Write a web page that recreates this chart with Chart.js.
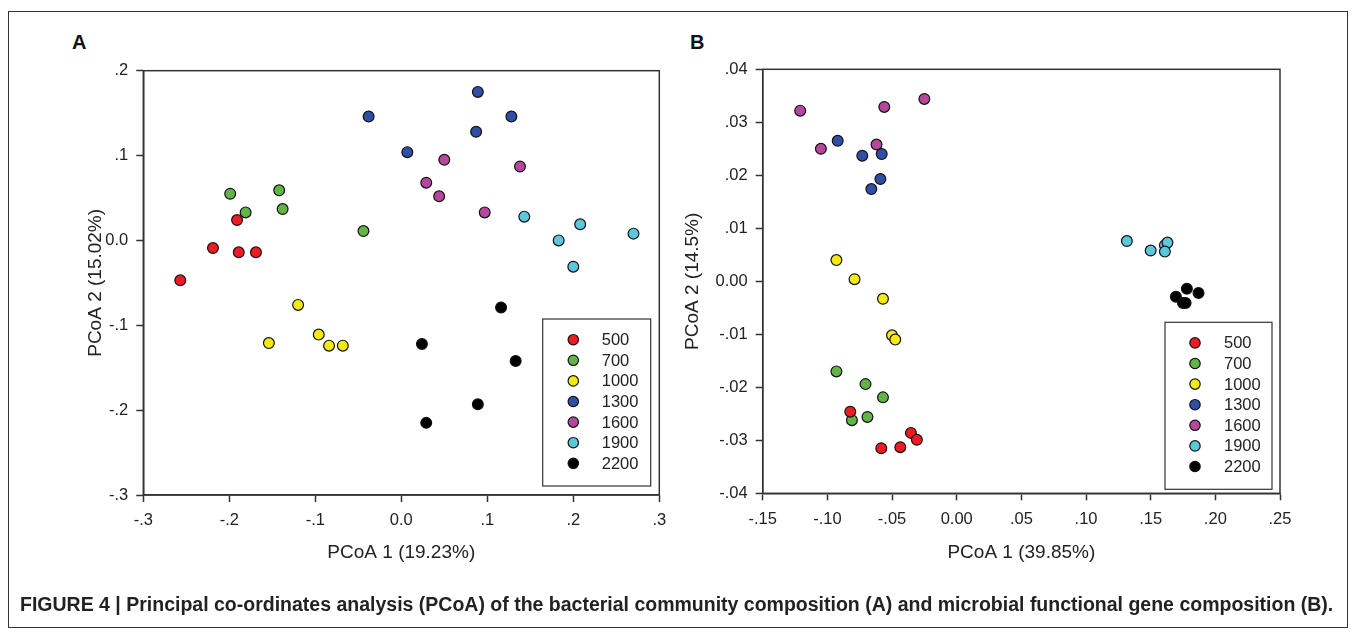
<!DOCTYPE html>
<html lang="en">
  <head>
    <meta charset="utf-8">
    <title>PCoA</title>
    <script src="https://cdn.jsdelivr.net/npm/chart.js@4.4.0/dist/chart.umd.min.js"></script>
    <style>
      body { margin: 0; background: #fff; font-family: "Liberation Sans", Arial, sans-serif; }
      #wrap { position: relative; width: 1357px; height: 631px; overflow: hidden; }
      #frame { position: absolute; left: 8px; top: 11px; width: 1340px; height: 617px; border: 1.5px solid #333; box-sizing: border-box; }
      .panel { position: absolute; font-weight: bold; font-size: 20px; color: #111; }
      #caption { position: absolute; left: 20px; top: 592px; font-size: 19.5px; line-height: 24px; font-weight: bold; color: #222; white-space: nowrap; }
      canvas { position: absolute; top: 0; }
    </style>
  </head>
<body>
<div id="wrap">
  <div id="frame"></div>
  <div class="panel" style="left:72px; top:31px">A</div>
  <div class="panel" style="left:690px; top:31px">B</div>
  <canvas id="chartA" width="690" height="631" style="left:0"></canvas>
  <canvas id="chartB" width="697" height="631" style="left:660px"></canvas>
  <div id="caption">FIGURE 4 | Principal co-ordinates analysis (PCoA) of the bacterial community composition (A) and microbial functional gene composition (B).</div>
</div>

<script>
var groups = ['500', '700', '1000', '1300', '1600', '1900', '2200'];
var colors = ['#ED1C24', '#62B446', '#F4EA12', '#2E4FA3', '#B5479C', '#5CC8DB', '#000000'];

// panel A: bacterial community, [PCoA 1, PCoA 2]
var a500  = [[-0.191, 0.024], [-0.219, -0.009], [-0.189, -0.014], [-0.169, -0.014], [-0.257, -0.047]];
var a700  = [[-0.199, 0.055], [-0.142, 0.059], [-0.181, 0.033], [-0.138, 0.037], [-0.044, 0.011]];
var a1000 = [[-0.120, -0.076], [-0.154, -0.121], [-0.096, -0.111], [-0.084, -0.124], [-0.068, -0.124]];
var a1300 = [[0.089, 0.175], [-0.038, 0.146], [0.128, 0.146], [0.087, 0.128], [0.007, 0.104]];
var a1600 = [[0.050, 0.095], [0.138, 0.087], [0.029, 0.068], [0.044, 0.052], [0.097, 0.033]];
var a1900 = [[0.143, 0.028], [0.208, 0.019], [0.183, 0.000], [0.270, 0.008], [0.200, -0.031]];
var a2200 = [[0.116, -0.079], [0.024, -0.122], [0.133, -0.142], [0.089, -0.193], [0.029, -0.215]];

// panel B: functional genes
var b500  = [[-0.0823, -0.0246], [-0.0354, -0.0286], [-0.0308, -0.0299], [-0.0583, -0.0315], [-0.0436, -0.0313]];
var b700  = [[-0.093, -0.0170], [-0.0705, -0.0194], [-0.057, -0.0219], [-0.081, -0.0262], [-0.069, -0.0256]];
var b1000 = [[-0.093, 0.0040], [-0.079, 0.0004], [-0.057, -0.0033], [-0.050, -0.0102], [-0.0475, -0.0110]];
var b1300 = [[-0.092, 0.0265], [-0.073, 0.0237], [-0.058, 0.0240], [-0.059, 0.0193], [-0.066, 0.0174]];
var b1600 = [[-0.121, 0.0322], [-0.105, 0.0250], [-0.056, 0.0329], [-0.025, 0.0344], [-0.062, 0.0258]];
var b1900 = [[0.1316, 0.0076], [0.150, 0.0058], [0.161, 0.0068], [0.163, 0.0073], [0.161, 0.0056]];
var b2200 = [[0.178, -0.0014], [0.187, -0.0022], [0.1695, -0.0029], [0.175, -0.0041], [0.177, -0.0041]];

var xTicksA = [-0.3, -0.2, -0.1, 0, 0.1, 0.2, 0.3];
var xLabelsA = ['-.3', '-.2', '-.1', '0.0', '.1', '.2', '.3'];
var yTicksA = [-0.3, -0.2, -0.1, 0, 0.1, 0.2];
var yLabelsA = ['-.3', '-.2', '-.1', '0.0', '.1', '.2'];
var xTicksB = [-0.15, -0.10, -0.05, 0, 0.05, 0.10, 0.15, 0.20, 0.25];
var xLabelsB = ['-.15', '-.10', '-.05', '0.00', '.05', '.10', '.15', '.20', '.25'];
var yTicksB = [-0.04, -0.03, -0.02, -0.01, 0, 0.01, 0.02, 0.03, 0.04];
var yLabelsB = ['-.04', '-.03', '-.02', '-.01', '0.00', '.01', '.02', '.03', '.04'];

var FONT = '"Liberation Sans", Arial, sans-serif';

function makeSets(lists) {
  return lists.map(function(pts, i) {
    return {
      label: groups[i],
      data: pts.map(function(p) { return {x: p[0], y: p[1]}; }),
      backgroundColor: colors[i],
      borderColor: '#111',
      borderWidth: 1.2,
      pointRadius: 5.4,
      pointStyle: 'circle'
    };
  });
}

// box round the plot area + legend box inside it
var boxPlugin = {
  id: 'boxLegend',
  afterDraw: function(chart, args, o) {
    var ctx = chart.ctx, a = chart.chartArea;
    ctx.save();
    ctx.strokeStyle = '#333';
    ctx.lineWidth = 1.5;
    ctx.strokeRect(a.left, a.top, a.right - a.left, a.bottom - a.top);

    var bx = a.right - o.right - o.width, by = a.bottom - o.bottom - o.height;
    ctx.fillStyle = '#fff';
    ctx.fillRect(bx, by, o.width, o.height);
    ctx.lineWidth = 1.2;
    ctx.strokeRect(bx, by, o.width, o.height);
    ctx.font = '16.5px ' + FONT;
    ctx.textBaseline = 'middle';
    chart.data.datasets.forEach(function(ds, i) {
      var y = by + o.rowTop + i * o.rowGap;
      ctx.beginPath();
      ctx.arc(bx + o.markerX, y, 5.2, 0, Math.PI * 2);
      ctx.fillStyle = ds.backgroundColor;
      ctx.fill();
      ctx.lineWidth = 1.2;
      ctx.strokeStyle = '#111';
      ctx.stroke();
      ctx.fillStyle = '#222';
      ctx.fillText(ds.label, bx + o.textX, y + 1);
    });
    ctx.restore();
  }
};

function axis(vals, labels, title, fixed, horizontal) {
  return {
    type: 'linear',
    min: vals[0],
    max: vals[vals.length - 1],
    afterBuildTicks: function(s) { s.ticks = vals.map(function(v) { return {value: v}; }); },
    afterFit: function(s) { if (horizontal) s.height = fixed; else s.width = fixed; },
    ticks: {
      color: '#222',
      padding: horizontal ? 9 : 8,
      maxRotation: 0,
      autoSkip: false,
      font: {family: FONT, size: 16.5},
      callback: function(v, i) { return labels[i]; }
    },
    grid: {drawOnChartArea: false, drawTicks: true, tickLength: 7, tickColor: '#333', tickWidth: 1.5},
    border: {display: true, color: '#333', width: 1.5},
    title: {display: true, text: title, color: '#222', font: {family: FONT, size: 19}}
  };
}

function makeChart(id, sets, xs, ys, pad, yWidth, xHeight, leg) {
  return new Chart(document.getElementById(id), {
    type: 'scatter',
    data: {datasets: sets},
    options: {
      responsive: false,
      animation: false,
      devicePixelRatio: 1,
      layout: {padding: pad},
      plugins: {legend: {display: false}, tooltip: {enabled: false}, boxLegend: leg},
      scales: {x: xs(xHeight), y: ys(yWidth)}
    },
    plugins: [boxPlugin]
  });
}

makeChart('chartA', makeSets([a500, a700, a1000, a1300, a1600, a1900, a2200]),
  function(h) { return axis(xTicksA, xLabelsA, 'PCoA 1 (19.23%)', h, true); },
  function(w) { return axis(yTicksA, yLabelsA, 'PCoA 2 (15.02%)', w, false); },
  {left: 80, right: 30.7, top: 70.7, bottom: 62.6}, 63.3, 73.4,
  {right: 8.6, bottom: 9, width: 108, height: 167, rowTop: 20.7, rowGap: 20.6, markerX: 30.6, textX: 59});

makeChart('chartB', makeSets([b500, b700, b1000, b1300, b1600, b1900, b2200]),
  function(h) { return axis(xTicksB, xLabelsB, 'PCoA 1 (39.85%)', h, true); },
  function(w) { return axis(yTicksB, yLabelsB, 'PCoA 2 (14.5%)', w, false); },
  {left: 17.6, right: 77, top: 69.3, bottom: 62.6}, 85.1, 75.1,
  {right: 8, bottom: 4, width: 107, height: 167, rowTop: 20.6, rowGap: 20.6, markerX: 30, textX: 59});
</script>
</body>
</html>
